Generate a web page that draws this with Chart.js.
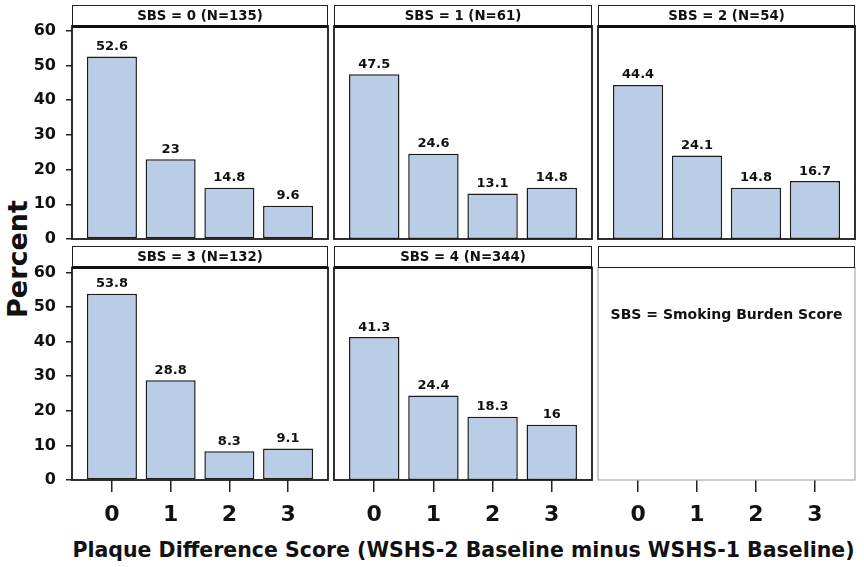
<!DOCTYPE html>
<html>
<head>
<meta charset="utf-8">
<script src="https://cdn.jsdelivr.net/npm/chart.js@4.4.1/dist/chart.umd.min.js"></script>
<style>
  html, body { margin: 0; padding: 0; background: #fff; }
  #wrap { position: relative; width: 864px; height: 567px; overflow: hidden;
          font-family: "DejaVu Sans", sans-serif; font-weight: bold; color: #111; }
  #wrap canvas { position: absolute; }
  .hdr { position: absolute; box-sizing: border-box; border: 1px solid #222;
         border-bottom: 3px solid #111; text-align: center; font-size: 13.3px;
         line-height: 20px; white-space: nowrap; }
  .hdr.empty { border-bottom: 1.5px solid #222; }
  #ytitle { position: absolute; left: 17.5px; top: 259px; font-size: 27px; line-height: 30px;
            white-space: nowrap; transform: translate(-50%, -50%) rotate(-90deg); }
  #xtitle { position: absolute; left: 0; width: 927px; top: 537.6px; height: 24px;
            line-height: 24px; font-size: 20.5px; text-align: center; white-space: nowrap; }
  #note { position: absolute; left: 598px; width: 257px; top: 304px; height: 20px;
          line-height: 20px; font-size: 14px; text-align: center; white-space: nowrap; }
</style>
</head>
<body>
<div id="wrap">
  <div id="ytitle">Percent</div>
  <div id="xtitle">Plaque Difference Score (WSHS-2 Baseline minus WSHS-1 Baseline)</div>
</div>
<script>
// ---- data ----
const categories = [0, 1, 2, 3];
const sbsLevels = [0, 1, 2, 3, 4];
const nValues = [135, 61, 54, 132, 344];
const sbs0 = [52.6, 23, 14.8, 9.6];
const sbs1 = [47.5, 24.6, 13.1, 14.8];
const sbs2 = [44.4, 24.1, 14.8, 16.7];
const sbs3 = [53.8, 28.8, 8.3, 9.1];
const sbs4 = [41.3, 24.4, 18.3, 16];
const yTicks = [0, 10, 20, 30, 40, 50, 60];
const noteText = 'SBS = Smoking Burden Score';
const seriesValues = [sbs0, sbs1, sbs2, sbs3, sbs4];

// ---- layout ----
const colLeft = [72, 334, 598];
const colRight = [328, 592, 855];
const hdrTop = [5, 246];
const plotTop = [26, 267.5];
const plotBottom = [239, 480];
const canvasTop = [0, 240];
const xAxisH = 50;
const row0PadBottom = 24;
const FONT = '"DejaVu Sans", sans-serif';
const wrap = document.getElementById('wrap');

const framePlugin = {
  id: 'frame',
  afterDraw(chart, args, opts) {
    const a = chart.chartArea, ctx = chart.ctx;
    ctx.save();
    ctx.strokeStyle = opts.color;
    ctx.lineWidth = opts.width;
    ctx.strokeRect(a.left, a.top, a.right - a.left, a.bottom - a.top);
    ctx.restore();
  }
};

const valueLabels = {
  id: 'valueLabels',
  afterDatasetsDraw(chart) {
    const ctx = chart.ctx;
    chart.data.datasets.forEach((ds, di) => {
      chart.getDatasetMeta(di).data.forEach((bar, j) => {
        ctx.save();
        ctx.font = 'bold 13px ' + FONT;
        ctx.fillStyle = '#111';
        ctx.textAlign = 'center';
        ctx.textBaseline = 'alphabetic';
        ctx.fillText(String(ds.data[j].y), bar.x, bar.y - 6.5);
        ctx.restore();
      });
    });
  }
};

for (let p = 0; p < 6; p++) {
  const row = Math.floor(p / 3), col = p % 3;
  const values = seriesValues[p];
  const hasData = !!values;

  const left = col === 0 ? 0 : colLeft[col] - 3;
  const width = colRight[col] + 3 - left;
  const top = canvasTop[row];
  const height = row === 0 ? plotBottom[0] + row0PadBottom - top : plotBottom[1] - top + xAxisH;

  const cv = document.createElement('canvas');
  cv.width = width; cv.height = height;
  cv.style.left = left + 'px'; cv.style.top = top + 'px';
  cv.style.width = width + 'px'; cv.style.height = height + 'px';
  wrap.appendChild(cv);

  const hdr = document.createElement('div');
  hdr.className = 'hdr' + (hasData ? '' : ' empty');
  hdr.style.left = colLeft[col] + 'px';
  hdr.style.top = hdrTop[row] + 'px';
  hdr.style.width = (colRight[col] - colLeft[col]) + 'px';
  hdr.style.height = (plotTop[row] - hdrTop[row] + (hasData ? 1.5 : 0.75)) + 'px';
  hdr.textContent = hasData ? `SBS = ${sbsLevels[p]} (N=${nValues[p]})` : '';
  wrap.appendChild(hdr);

  const datasets = hasData ? [{
    data: values.map((v, i) => ({ x: categories[i], y: v })),
    backgroundColor: '#b9cde6',
    borderColor: '#1c1c1c',
    borderWidth: 1.5,
    borderSkipped: false,
    barPercentage: 0.852,
    categoryPercentage: 1
  }] : [];

  const showX = row === 1, showY = col === 0;

  new Chart(cv, {
    type: 'bar',
    data: { datasets },
    options: {
      responsive: false,
      animation: false,
      devicePixelRatio: 1,
      layout: { padding: {
        left: col === 0 ? 0 : 3,
        right: 3,
        top: plotTop[row] - top,
        bottom: row === 0 ? row0PadBottom : 0
      } },
      plugins: {
        legend: { display: false },
        tooltip: { enabled: false },
        title: { display: false },
        frame: { color: hasData ? '#1a1a1a' : '#a8a8a8', width: hasData ? 1.8 : 1.2 }
      },
      scales: {
        x: {
          type: 'linear',
          min: -0.68, max: 3.68,
          offset: false,
          display: showX,
          afterBuildTicks: s => { s.ticks = categories.map(v => ({ value: v })); },
          afterFit: s => { if (showX) s.height = xAxisH; },
          grid: { display: true, offset: false, drawOnChartArea: false, drawTicks: true,
                  tickLength: 12, color: '#222', lineWidth: 1.5 },
          border: { display: false },
          ticks: { font: { family: FONT, size: 22, weight: 'bold' }, color: '#111', padding: 10,
                   maxRotation: 0, autoSkip: false, callback: v => String(v) }
        },
        y: {
          type: 'linear',
          min: 0, max: 61.4,
          display: showY,
          afterBuildTicks: s => { s.ticks = yTicks.map(v => ({ value: v })); },
          afterFit: s => { if (showY) s.width = colLeft[0]; },
          grid: { display: true, drawOnChartArea: false, drawTicks: true, tickLength: 6,
                  color: '#222', lineWidth: 1.5 },
          border: { display: false },
          ticks: { font: { family: FONT, size: 16, weight: 'bold' }, color: '#111', padding: 10,
                   autoSkip: false, callback: v => String(v) }
        }
      }
    },
    plugins: [framePlugin, valueLabels]
  });

  if (!hasData) {
    const note = document.createElement('div');
    note.id = 'note';
    note.textContent = noteText;
    wrap.appendChild(note);
  }
}
</script>
</body>
</html>
